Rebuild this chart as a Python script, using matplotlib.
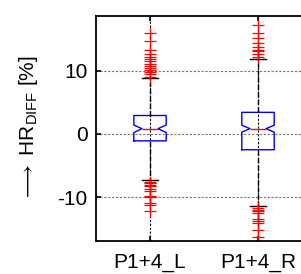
import matplotlib
matplotlib.use("Agg")
import matplotlib.pyplot as plt

plt.rcParams["font.family"] = ["Liberation Sans", "DejaVu Sans"]
plt.rcParams["mathtext.fontset"] = "custom"
plt.rcParams["mathtext.rm"] = "Liberation Sans"
plt.rcParams["axes.unicode_minus"] = False

# Werte
labels = ["P1+4_L", "P1+4_R"]
medians = [0.83, 0.83]
q1 = [-1.1, -2.5]
q3 = [2.9, 3.4]
ci_low = [0.2, 0.27]
ci_high = [1.4, 1.37]
whisk_low = [-7.3, -11.3]
whisk_high = [8.8, 11.8]
outliers_l = [9.0, 9.4, 9.8, 10.1, 10.4, 10.75, 11.1, 11.5, 11.8, 12.2, 12.55,
              13.3, 14.7, 15.95,
              -7.6, -7.8, -8.0, -8.2, -8.7, -9.0, -9.8, -10.0, -10.9, -11.2, -12.2]
outliers_r = [12.2, 12.6, 13.0, 13.3, 13.7, 14.3, 15.1, 15.9, 17.2,
              -11.7, -12.0, -12.2, -12.5, -13.4, -13.7, -14.0, -15.1, -16.3]


def main():
    fig = plt.figure(figsize=(3.01, 2.74), dpi=100)
    ax = fig.add_axes([96 / 301, 33 / 274, 216 / 301, 225 / 274])

    fliers = [outliers_l, outliers_r]
    stats = []
    for i in range(len(labels)):
        stats.append({
            "med": medians[i], "q1": q1[i], "q3": q3[i],
            "cilo": ci_low[i], "cihi": ci_high[i],
            "whislo": whisk_low[i], "whishi": whisk_high[i],
            "fliers": fliers[i], "label": labels[i],
        })

    ax.bxp(stats, positions=[1, 2], widths=0.3, shownotches=True,
           boxprops=dict(color="blue", linewidth=1.0),
           medianprops=dict(color="red", linewidth=1.0),
           whiskerprops=dict(color="black", linestyle="--", linewidth=1.0),
           capprops=dict(color="black", linewidth=1.0),
           flierprops=dict(marker="+", markeredgecolor="red", markersize=8,
                           markeredgewidth=0.9, linestyle="none"))

    ax.set_xlim(0.5, 2.5)
    ax.set_ylim(-16.9, 18.6)
    ax.set_yticks([-10, 0, 10])
    ax.set_axisbelow(True)
    ax.grid(axis="y", color="0.45", linestyle=(0, (2, 1.5)), linewidth=0.8)
    ax.grid(axis="x", color="black", linestyle=(0, (2, 1.5)), linewidth=0.8)

    for s in ax.spines.values():
        s.set_linewidth(1.3)
    ax.tick_params(direction="in", top=True, right=True, length=3.5,
                   width=1.2, labelsize=15)
    ax.tick_params(axis="x", pad=9)
    ax.tick_params(axis="y", pad=6)

    ax.set_ylabel(r"$\longrightarrow$ HR$_{\mathregular{DIFF}}$ [%]", fontsize=15)
    ax.yaxis.set_label_coords(-0.26, 0.5)

    fig.savefig("out.png", dpi=100)


if __name__ == "__main__":
    main()
